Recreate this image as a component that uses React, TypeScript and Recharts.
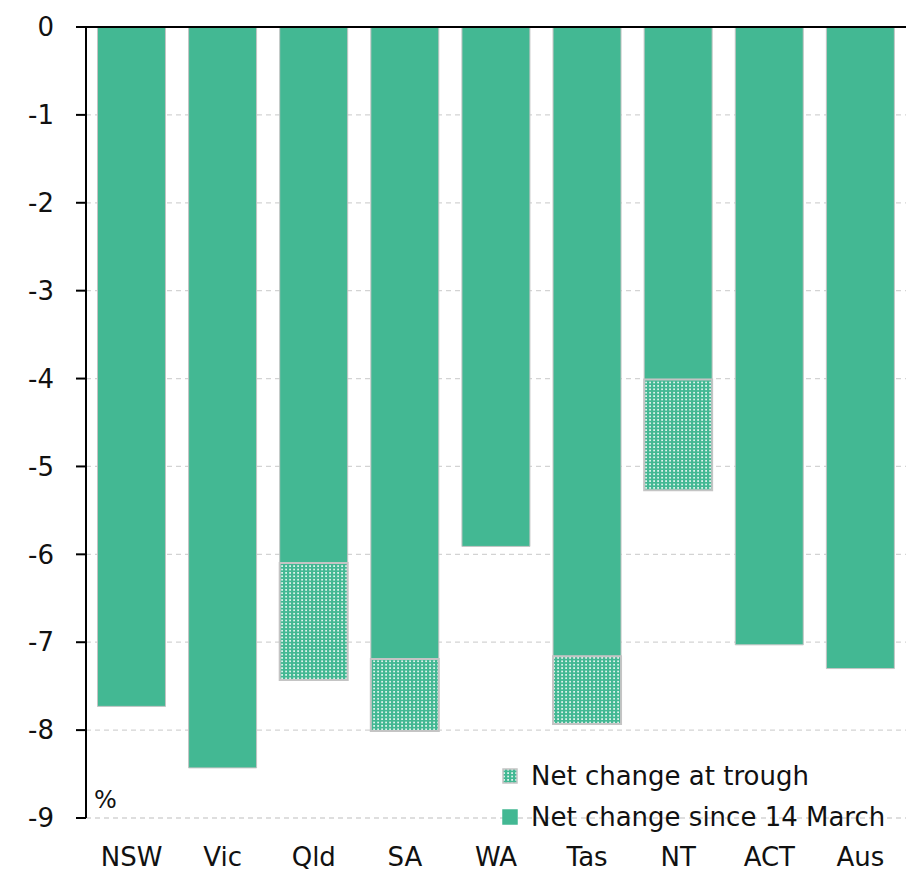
import React from 'react';
import { BarChart, Bar, XAxis, YAxis, CartesianGrid, ReferenceLine } from 'recharts';

const categories = ['NSW', 'Vic', 'Qld', 'SA', 'WA', 'Tas', 'NT', 'ACT', 'Aus'];
const netSince14March = [-7.73, -8.43, -6.1, -7.19, -5.91, -7.16, -4.01, -7.03, -7.3];
const netAtTrough: (number | null)[] = [null, null, -7.43, -8.01, null, -7.93, -5.27, null, null];
const yTicks = [0, -1, -2, -3, -4, -5, -6, -7, -8, -9];

const GREEN = '#43B893';
const BORDER = '#c4c4c4';
const FONT = '"DejaVu Sans", sans-serif';

const data = categories.map((name, i) => ({
  name,
  net: netSince14March[i],
  troughExtra: netAtTrough[i] == null ? null : (netAtTrough[i] as number) - netSince14March[i],
}));

const legendItems = [
  { label: 'Net change at trough', fill: 'url(#troughDots)', stroke: BORDER },
  { label: 'Net change since 14 March', fill: GREEN, stroke: GREEN },
];

const LegendBox = () => (
  <div
    style={{
      position: 'absolute',
      left: 502,
      top: 755,
      width: 410,
      fontFamily: FONT,
      fontSize: 26,
      color: '#111',
      pointerEvents: 'none',
    }}
  >
    {legendItems.map((it) => (
      <div key={it.label} style={{ display: 'flex', alignItems: 'center', height: 41, whiteSpace: 'nowrap' }}>
        <svg width={29} height={16}>
          <rect x={1} y={1} width={14} height={14} fill={it.fill} stroke={it.stroke} strokeWidth={1.5} />
        </svg>
        <span>{it.label}</span>
      </div>
    ))}
  </div>
);

export default function App() {
  return (
    <div style={{ position: 'absolute', left: 0, top: 0, width: 918, height: 875, background: '#fff' }}>
      <BarChart
        width={918}
        height={875}
        data={data}
        margin={{ top: 27, right: 12, bottom: 0, left: 0 }}
        barCategoryGap="12.6%"
      >
        <defs>
          <pattern id="troughDots" x={0} y={0} width={4} height={3.4} patternUnits="userSpaceOnUse">
            <rect x={0} y={0} width={4} height={3.4} fill={GREEN} />
            <rect x={1.2} y={1} width={1.8} height={1.4} fill="#ffffff" />
          </pattern>
        </defs>
        <CartesianGrid vertical={false} stroke="#d3d3d3" strokeDasharray="5 4" strokeWidth={1.3} />
        <XAxis
          dataKey="name"
          axisLine={false}
          tickLine={false}
          tickSize={0}
          tickMargin={30}
          height={57}
          interval={0}
          tick={{ fontSize: 26, fill: '#111', fontFamily: FONT }}
        />
        <YAxis
          domain={[-9, 0]}
          ticks={yTicks}
          interval={0}
          width={86}
          axisLine={{ stroke: '#000', strokeWidth: 2 }}
          tickLine={{ stroke: '#000', strokeWidth: 2 }}
          tickSize={10}
          tickMargin={22}
          tick={{ fontSize: 26, fill: '#111', fontFamily: FONT }}
        />
        <Bar dataKey="net" stackId="a" fill={GREEN} stroke={BORDER} strokeWidth={1} isAnimationActive={false} />
        <Bar dataKey="troughExtra" stackId="a" fill="url(#troughDots)" stroke={BORDER} strokeWidth={2} isAnimationActive={false} />
        <ReferenceLine y={0} stroke="#000" strokeWidth={2} />
        <text x={94} y={808} fontSize={24} fontFamily={FONT} fill="#111">%</text>
      </BarChart>
      <LegendBox />
    </div>
  );
}
